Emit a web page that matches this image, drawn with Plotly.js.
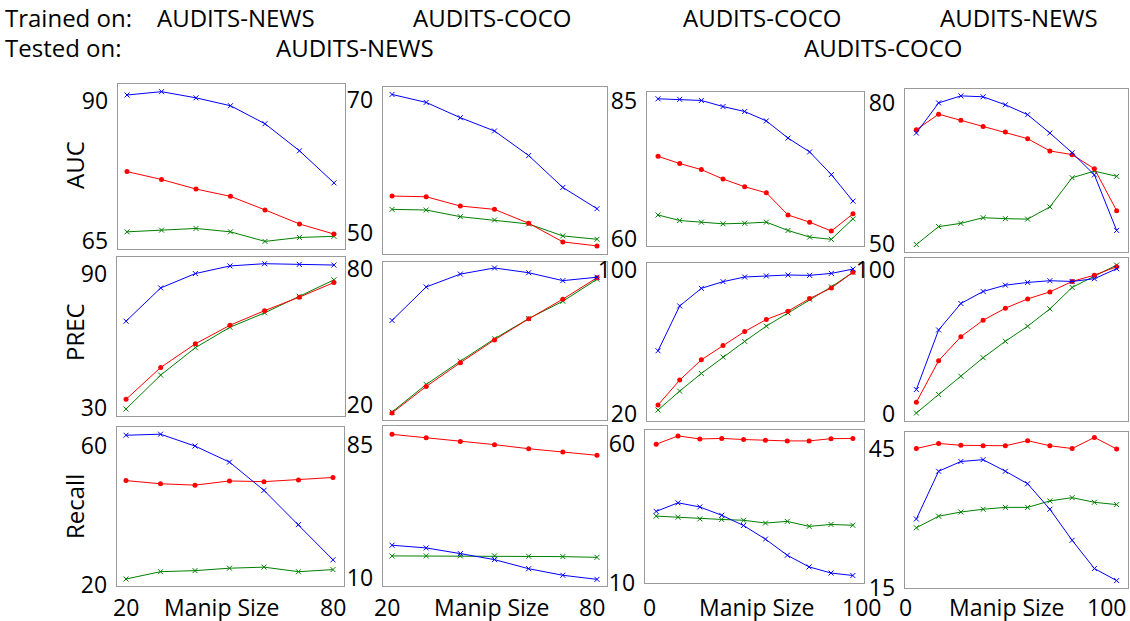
<!DOCTYPE html>
<html>
<head>
<meta charset="utf-8">
<script src="https://cdn.plot.ly/plotly-3.0.1.min.js"></script>
<style>html,body{margin:0;padding:0;background:#fff;}#chart{width:1130px;height:621px;}</style>
</head>
<body>
<div id="chart"></div>
<script>
// ---------- DATA ----------
const manipSizeNews = [20, 30, 40, 50, 60, 70, 80];
const manipSizeCoco = [5, 15, 25, 35, 45, 55, 65, 75, 85, 95];

const trainedOn = ["AUDITS-NEWS", "AUDITS-COCO", "AUDITS-COCO", "AUDITS-NEWS"];
const testedOn = ["AUDITS-NEWS", "AUDITS-COCO"];
const metricNames = ["AUC", "PREC", "Recall"];
const xTickNews = [20, 80];
const xTickCoco = [0, 100];

// AUC
const aucNewsNewsBlue  = [91.0, 91.6, 90.5, 89.1, 85.9, 81.1, 75.4];
const aucNewsNewsRed   = [77.4, 76.0, 74.3, 73.0, 70.6, 68.1, 66.3];
const aucNewsNewsGreen = [66.7, 67.0, 67.3, 66.7, 65.0, 65.7, 65.9];
const aucCocoNewsBlue  = [70.9, 69.7, 67.4, 65.4, 61.7, 56.9, 53.7];
const aucCocoNewsRed   = [55.6, 55.5, 54.1, 53.6, 51.5, 48.7, 48.1];
const aucCocoNewsGreen = [53.6, 53.5, 52.5, 52.0, 51.4, 49.6, 49.1];
const aucCocoCocoBlue  = [85.4, 85.3, 85.1, 84.0, 83.1, 81.4, 78.3, 75.8, 71.7, 66.9];
const aucCocoCocoRed   = [75.0, 73.7, 72.6, 70.9, 69.5, 68.4, 64.4, 63.1, 61.5, 64.6];
const aucCocoCocoGreen = [64.4, 63.4, 63.1, 62.8, 62.9, 63.1, 61.6, 60.4, 60.0, 63.7];
const aucNewsCocoBlue  = [73.5, 79.9, 81.4, 81.2, 79.5, 77.4, 73.5, 69.3, 64.6, 52.8];
const aucNewsCocoRed   = [74.2, 77.5, 76.2, 74.9, 73.7, 72.3, 69.7, 68.9, 65.9, 57.0];
const aucNewsCocoGreen = [49.8, 53.6, 54.3, 55.5, 55.3, 55.2, 57.8, 64.0, 65.4, 64.3];

// PREC
const precNewsNewsBlue  = [68.8, 83.6, 90.0, 93.4, 94.4, 94.1, 93.8];
const precNewsNewsRed   = [34.0, 48.2, 58.7, 67.0, 73.5, 79.5, 86.0];
const precNewsNewsGreen = [29.7, 44.8, 57.0, 66.1, 72.5, 79.9, 87.2];
const precCocoNewsBlue  = [57.4, 72.2, 77.9, 80.6, 78.5, 75.0, 76.5];
const precCocoNewsRed   = [16.5, 28.2, 38.7, 48.8, 58.1, 66.8, 76.3];
const precCocoNewsGreen = [16.9, 29.1, 39.4, 49.3, 58.2, 65.9, 75.6];
const precCocoCocoBlue  = [55.3, 80.2, 90.0, 93.7, 96.3, 96.9, 97.4, 97.2, 98.3, 100.7];
const precCocoCocoRed   = [25.2, 39.0, 50.3, 58.2, 66.0, 72.7, 77.3, 84.3, 90.2, 98.9];
const precCocoCocoGreen = [22.4, 32.9, 42.7, 51.8, 60.5, 69.0, 76.3, 83.9, 90.8, 98.9];
const precNewsCocoBlue  = [16.8, 58.4, 76.9, 85.3, 89.7, 91.6, 92.8, 92.3, 94.2, 101.2];
const precNewsCocoRed   = [7.9, 36.9, 53.7, 65.2, 73.6, 80.1, 85.0, 92.3, 96.7, 102.6];
const precNewsCocoGreen = [0.4, 13.3, 26.1, 39.0, 50.5, 61.0, 73.1, 88.1, 96.0, 103.7];

// Recall
const recNewsNewsBlue  = [63.0, 63.3, 59.9, 55.3, 47.2, 37.4, 27.3];
const recNewsNewsRed   = [50.0, 49.1, 48.7, 49.9, 49.7, 50.2, 50.9];
const recNewsNewsGreen = [21.8, 23.9, 24.2, 24.9, 25.2, 23.9, 24.5];
const recCocoNewsBlue  = [28.6, 27.1, 23.9, 20.5, 15.4, 11.7, 9.4];
const recCocoNewsRed   = [91.0, 89.1, 86.9, 85.2, 82.9, 81.1, 79.2];
const recCocoNewsGreen = [22.6, 22.6, 22.6, 22.6, 22.4, 22.2, 21.8];
const recCocoCocoBlue  = [35.7, 38.8, 37.3, 34.3, 30.6, 25.7, 19.9, 15.7, 13.5, 12.6];
const recCocoCocoRed   = [59.9, 62.9, 61.8, 62.0, 61.6, 61.3, 61.1, 61.1, 61.9, 62.0];
const recCocoCocoGreen = [34.0, 33.6, 33.0, 32.8, 32.5, 31.5, 32.1, 30.3, 31.0, 30.7];
const recNewsCocoBlue  = [29.8, 40.1, 42.2, 42.6, 40.1, 37.4, 31.9, 25.2, 19.1, 16.5];
const recNewsCocoRed   = [45.0, 46.1, 45.7, 45.6, 45.6, 46.7, 45.6, 45.0, 47.4, 44.9];
const recNewsCocoGreen = [27.9, 30.4, 31.3, 31.9, 32.3, 32.3, 33.7, 34.4, 33.4, 32.9];

// y tick values per panel (row-major)
const yTicks = [
  [65, 90], [50, 70], [60, 85], [50, 80],
  [30, 90], [20, 80], [20, 100], [0, 100],
  [20, 60], [10, 85], [10, 60], [15, 45]
];

// ---------- LAYOUT GEOMETRY (pixels) ----------
const W = 1130, H = 621;
const boxes = [ // [left, right, top, bottom]
  [118, 345, 84, 249], [383, 607, 87, 254], [647, 864, 92, 246], [905, 1128, 89, 252],
  [117, 345, 257, 416], [383, 607, 262, 420], [647, 864, 263, 421], [905, 1128, 258, 421],
  [117, 344, 427, 586], [383, 607, 426, 586], [645, 864, 430, 583], [905, 1128, 432, 588]
];
const yRanges = [
  [63.65, 92.96], [46.88, 72.02], [58.79, 86.63], [48.21, 82.86],
  [26.58, 97.38], [13.38, 83.24], [16.29, 104.07], [-5.19, 108.67],
  [19.8, 65.36], [5.67, 95.69], [9.9, 65.03], [14.9, 48.57]
];
const xRanges = [[17.39, 83.2], [17.36, 82.93], [-0.1, 100.1], [-0.1, 100.1]];

const panelData = [
  [aucNewsNewsBlue, aucNewsNewsRed, aucNewsNewsGreen],
  [aucCocoNewsBlue, aucCocoNewsRed, aucCocoNewsGreen],
  [aucCocoCocoBlue, aucCocoCocoRed, aucCocoCocoGreen],
  [aucNewsCocoBlue, aucNewsCocoRed, aucNewsCocoGreen],
  [precNewsNewsBlue, precNewsNewsRed, precNewsNewsGreen],
  [precCocoNewsBlue, precCocoNewsRed, precCocoNewsGreen],
  [precCocoCocoBlue, precCocoCocoRed, precCocoCocoGreen],
  [precNewsCocoBlue, precNewsCocoRed, precNewsCocoGreen],
  [recNewsNewsBlue, recNewsNewsRed, recNewsNewsGreen],
  [recCocoNewsBlue, recCocoNewsRed, recCocoNewsGreen],
  [recCocoCocoBlue, recCocoCocoRed, recCocoCocoGreen],
  [recNewsCocoBlue, recNewsCocoRed, recNewsCocoGreen]
];

const FONT = '"Open Sans", sans-serif';
const BLUE = '#0000ff', RED = '#ff0000', GREEN = '#008000';

const traces = [];
const layout = {
  width: W, height: H,
  margin: {l: 0, r: 0, t: 0, b: 0},
  paper_bgcolor: '#ffffff', plot_bgcolor: '#ffffff',
  showlegend: false,
  font: {family: FONT, color: '#000', size: 22},
  annotations: []
};

for (let p = 0; p < 12; p++) {
  const col = p % 4;
  const xs = col < 2 ? manipSizeNews : manipSizeCoco;
  const suffix = p === 0 ? '' : String(p + 1);
  const xa = 'x' + suffix, ya = 'y' + suffix;
  const [blue, red, green] = panelData[p];
  traces.push({x: xs, y: green, xaxis: xa, yaxis: ya, mode: 'lines+markers',
    line: {color: GREEN, width: 1},
    marker: {symbol: 'x-thin', size: 5, line: {color: GREEN, width: 1}}});
  traces.push({x: xs, y: red, xaxis: xa, yaxis: ya, mode: 'lines+markers',
    line: {color: RED, width: 1},
    marker: {symbol: 'circle', size: 5, color: RED}});
  traces.push({x: xs, y: blue, xaxis: xa, yaxis: ya, mode: 'lines+markers',
    line: {color: BLUE, width: 1},
    marker: {symbol: 'x-thin', size: 5, line: {color: BLUE, width: 1}}});

  const b = boxes[p];
  layout['xaxis' + suffix] = {
    domain: [b[0] / W, b[1] / W],
    anchor: ya, range: xRanges[col],
    showline: true, mirror: true, linecolor: '#9a9a9a', linewidth: 1.3,
    showgrid: false, zeroline: false, ticks: '', showticklabels: false, fixedrange: true
  };
  layout['yaxis' + suffix] = {
    domain: [1 - b[3] / H, 1 - b[2] / H],
    anchor: xa, range: yRanges[p],
    showline: true, mirror: true, linecolor: '#9a9a9a', linewidth: 1.3,
    showgrid: false, zeroline: false, ticks: '',
    tickmode: 'array', tickvals: yTicks[p], ticktext: yTicks[p].map(String),
    tickfont: {family: FONT, size: 23, color: '#000'}, ticklabelstandoff: 4, fixedrange: true
  };
}

// x tick labels for bottom row (placed on each panel's own x scale)
const xLabelY = 1 - 607 / H;
const xTickShift = [[0, 0], [-5, -5], [4, -2], [0, 0]];
for (let col = 0; col < 4; col++) {
  const p = 8 + col;
  const xa = 'x' + (p + 1);
  const ticks = col < 2 ? xTickNews : xTickCoco;
  ticks.forEach((t, i) => {
    const lastCol = (col === 3 && i === 1);
    layout.annotations.push({
      xref: xa, yref: 'paper', x: t, y: xLabelY, text: String(t), showarrow: false,
      xanchor: lastCol ? 'right' : 'center', yanchor: 'middle',
      xshift: xTickShift[col][i],
      font: {family: FONT, size: 23, color: '#000'}
    });
  });
}

// "Manip Size" titles
[222, 492, 757, 1007].forEach(cx => {
  layout.annotations.push({xref: 'paper', yref: 'paper', x: cx / W, y: xLabelY,
    text: 'Manip Size', showarrow: false, xanchor: 'center', yanchor: 'middle',
    font: {family: FONT, size: 23, color: '#000'}});
});

// y-axis metric titles
[165, 332, 507].forEach((cy, i) => {
  layout.annotations.push({xref: 'paper', yref: 'paper', x: 74 / W, y: 1 - cy / H,
    text: metricNames[i], showarrow: false, textangle: -90, xanchor: 'center', yanchor: 'middle',
    font: {family: FONT, size: 24, color: '#000'}});
});

// header texts
const hdrFont = {family: FONT, size: 24, color: '#000'};
layout.annotations.push({xref: 'paper', yref: 'paper', x: 3 / W, y: 1 - 17 / H,
  text: 'Trained on:', showarrow: false, xanchor: 'left', yanchor: 'middle', font: hdrFont});
[236, 492, 762, 1019].forEach((cx, i) => {
  layout.annotations.push({xref: 'paper', yref: 'paper', x: cx / W, y: 1 - 17 / H,
    text: trainedOn[i], showarrow: false, xanchor: 'center', yanchor: 'middle', font: hdrFont});
});
layout.annotations.push({xref: 'paper', yref: 'paper', x: 3 / W, y: 1 - 47 / H,
  text: 'Tested on:', showarrow: false, xanchor: 'left', yanchor: 'middle', font: hdrFont});
[355, 883].forEach((cx, i) => {
  layout.annotations.push({xref: 'paper', yref: 'paper', x: cx / W, y: 1 - 47 / H,
    text: testedOn[i], showarrow: false, xanchor: 'center', yanchor: 'middle', font: hdrFont});
});

Plotly.newPlot('chart', traces, layout, {displayModeBar: false, staticPlot: true});
</script>
</body>
</html>
